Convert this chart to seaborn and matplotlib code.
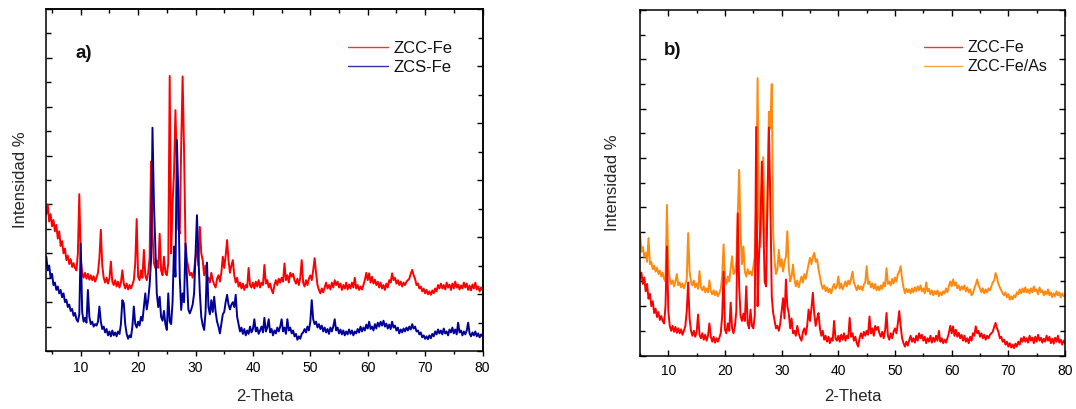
import numpy as np
import pandas as pd
import matplotlib
matplotlib.use("Agg")
import matplotlib.pyplot as plt
from matplotlib.lines import Line2D
from matplotlib.ticker import MultipleLocator
import seaborn as sns

# ---------------- data (y in arbitrary units 0-70) ----------------
step = 0.25                 # 2-theta sampling step (deg)
start_a = 4.0               # first 2-theta of the ZCC-Fe / ZCS-Fe scans
start_b = 5.0               # first 2-theta of the ZCC-Fe/As scan
offset_zcc_b = -10.0        # vertical offset of ZCC-Fe in panel b

zcc_fe = [
    28.0, 30.0, 26.5, 28.0, 25.5, 26.8, 24.5, 25.8, 23.0, 24.5,   # 4.0
    21.5, 22.5, 20.0, 21.0, 18.6, 19.5, 17.8, 18.8, 17.2, 18.0,   # 6.5
    17.0, 16.5, 20.0, 32.1, 19.0, 16.0, 15.0, 16.0, 14.8, 15.8,   # 9.0
    14.6, 15.5, 14.5, 15.3, 14.2, 15.0, 16.0, 19.0, 24.8, 17.5,   # 11.5
    15.0, 14.0, 15.0, 13.8, 14.8, 18.3, 14.2, 13.5, 14.5, 13.2,   # 14.0
    14.2, 13.0, 14.0, 16.5, 13.8, 12.8, 13.8, 12.6, 13.5, 12.8,   # 16.5
    13.6, 14.5, 18.0, 27.0, 15.2, 14.5, 16.5, 15.0, 20.7, 15.5,   # 19.0
    14.5, 16.0, 19.0, 38.8, 24.0, 18.0, 17.0, 18.5, 17.0, 24.0,   # 21.5
    16.5, 15.5, 19.3, 16.0, 15.5, 18.0, 56.3, 20.0, 30.0, 36.4,   # 24.0
    49.3, 38.0, 25.0, 24.0, 42.0, 56.2, 41.1, 22.0, 18.6, 17.0,   # 26.5
    15.5, 16.0, 15.0, 16.5, 19.0, 21.6, 17.5, 25.4, 20.0, 18.6,   # 29.0
    15.5, 17.5, 14.5, 15.0, 14.0, 16.0, 14.5, 13.6, 13.0, 14.8,   # 31.5
    15.5, 14.2, 16.0, 19.3, 17.0, 19.5, 22.7, 18.5, 16.0, 17.5,   # 34.0
    18.6, 15.5, 14.0, 15.0, 13.2, 14.0, 12.8, 13.8, 12.5, 13.5,   # 36.5
    13.0, 17.0, 13.5, 13.0, 14.0, 12.8, 14.2, 13.2, 14.5, 13.0,   # 39.0
    14.0, 13.5, 17.6, 13.8, 14.5, 13.0, 13.8, 12.5, 11.8, 13.5,   # 41.5
    14.5, 13.5, 14.8, 14.0, 15.0, 14.2, 17.9, 14.5, 15.5, 14.0,   # 44.0
    16.0, 15.2, 15.8, 14.5, 13.8, 14.8, 13.5, 15.0, 18.6, 14.0,   # 46.5
    13.2, 14.5, 13.5, 14.8, 15.5, 14.5, 16.5, 19.0, 16.0, 13.5,   # 49.0
    12.5, 11.8, 12.8, 12.0, 13.0, 14.0, 12.8, 13.5, 12.6, 14.0,   # 51.5
    13.0, 14.5, 13.5, 14.2, 13.0, 13.8, 12.5, 13.5, 12.8, 14.0,   # 54.0
    12.6, 13.6, 12.8, 14.0, 13.0, 15.0, 12.8, 13.5, 12.5, 13.2,   # 56.5
    12.6, 13.5, 14.5, 16.0, 14.5, 15.9, 14.0, 15.2, 13.8, 14.6,   # 59.0
    13.5, 14.2, 13.0, 14.0, 12.8, 13.5, 12.5, 13.8, 13.0, 14.5,   # 61.5
    14.0, 15.9, 14.5, 15.0, 13.8, 14.5, 13.5, 14.2, 13.2, 14.0,   # 64.0
    13.5, 14.2, 14.5, 14.8, 15.8, 16.6, 15.5, 14.8, 13.5, 13.8,   # 66.5
    12.8, 13.2, 12.2, 12.8, 11.8, 12.5, 11.6, 12.2, 11.5, 12.4,   # 69.0
    11.8, 12.8, 12.2, 13.5, 12.8, 13.8, 12.8, 13.5, 12.6, 14.0,   # 71.5
    13.0, 13.6, 12.5, 13.8, 12.8, 14.2, 13.0, 13.6, 12.6, 13.4,   # 74.0
    12.8, 14.0, 13.0, 13.8, 12.5, 13.4, 12.4, 13.6, 12.8, 14.0,   # 76.5
    12.6, 13.2, 12.2, 13.0, 12.5,                                 # 79.0
]

zcs_fe = [
    19.3, 16.5, 17.5, 15.0, 15.8, 13.5, 14.0, 12.5, 13.2, 11.8,   # 4.0
    12.5, 11.0, 11.8, 10.0, 10.5, 9.0, 9.5, 8.2, 8.6, 7.2,        # 6.5
    7.8, 6.5, 6.0, 7.5, 22.0, 8.0, 6.0, 6.8, 5.8, 12.5,           # 9.0
    7.0, 5.5, 6.0, 5.0, 5.5, 5.2, 6.0, 9.1, 6.0, 4.5,             # 11.5
    5.0, 3.8, 4.5, 3.2, 4.0, 3.0, 4.2, 3.2, 3.8, 3.0,             # 14.0
    4.0, 3.5, 5.5, 10.4, 9.8, 5.5, 3.5, 2.5, 3.2, 2.8,            # 16.5
    5.0, 9.1, 5.5, 4.8, 6.0, 5.2, 7.0, 6.2, 9.1, 11.8,            # 19.0
    8.5, 10.5, 13.5, 18.6, 45.7, 30.2, 21.4, 11.8, 9.0, 11.1,     # 21.5
    7.0, 6.2, 8.2, 5.5, 4.3, 11.8, 6.0, 5.5, 10.0, 21.4,          # 24.0
    15.2, 43.2, 32.3, 15.2, 8.4, 11.8, 10.0, 22.0, 15.2, 8.5,     # 26.5
    7.7, 8.5, 9.5, 11.8, 20.0, 27.8, 19.3, 12.0, 7.0, 5.3,        # 29.0
    4.3, 8.0, 18.1, 9.0, 7.5, 10.4, 8.0, 11.1, 8.0, 6.0,          # 31.5
    5.0, 3.6, 5.5, 7.5, 8.0, 10.0, 11.5, 9.5, 8.5, 9.5,           # 34.0
    10.0, 9.0, 11.5, 7.0, 5.5, 4.0, 4.8, 3.5, 4.5, 3.2,           # 36.5
    4.2, 3.5, 5.0, 3.8, 4.5, 6.5, 4.0, 4.8, 3.5, 4.2,             # 39.0
    5.0, 3.8, 6.8, 4.0, 4.8, 6.5, 3.8, 4.5, 3.2, 4.2,             # 41.5
    3.6, 4.8, 4.0, 5.0, 6.5, 4.0, 4.8, 3.5, 6.5, 4.2,             # 44.0
    4.8, 3.6, 4.2, 3.0, 3.5, 2.3, 3.0, 2.5, 3.5, 3.8,             # 46.5
    4.5, 3.8, 5.0, 4.2, 6.0, 10.4, 6.5, 5.5, 6.0, 4.8,            # 49.0
    5.5, 4.5, 5.2, 4.0, 4.8, 3.8, 4.5, 3.5, 4.8, 4.0,             # 51.5
    5.0, 6.5, 4.2, 4.8, 3.6, 4.4, 3.4, 4.2, 3.2, 4.0,             # 54.0
    3.4, 4.4, 3.5, 4.2, 3.2, 4.0, 3.6, 4.5, 3.8, 5.0,             # 56.5
    4.0, 4.8, 4.2, 5.4, 4.6, 6.0, 4.5, 5.0, 4.2, 5.5,             # 59.0
    4.6, 5.8, 5.0, 6.0, 5.2, 6.2, 5.0, 5.6, 4.6, 5.4,             # 61.5
    4.5, 6.0, 4.8, 5.2, 4.2, 4.8, 3.6, 4.4, 3.8, 4.6,             # 64.0
    4.0, 4.8, 4.2, 5.0, 4.4, 5.5, 4.6, 5.0, 4.0, 4.2,             # 66.5
    3.4, 3.8, 2.8, 3.2, 2.5, 3.0, 2.4, 3.2, 2.6, 3.5,             # 69.0
    3.0, 4.0, 3.4, 4.4, 3.6, 4.2, 3.4, 4.6, 3.6, 4.0,             # 71.5
    3.2, 4.4, 3.8, 4.8, 3.6, 4.4, 3.4, 5.8, 3.8, 4.2,             # 74.0
    3.2, 4.0, 3.4, 4.2, 5.8, 3.6, 3.0, 3.8, 3.2, 4.0,             # 76.5
    3.0, 3.6, 2.8, 3.4, 3.0,                                      # 79.0
]

zcc_fe_as = [
    24.8, 21.0, 22.0, 20.0, 20.8, 19.0, 23.8, 18.5, 19.0, 17.5,   # 5.0
    18.2, 17.0, 17.8, 16.5, 17.2, 16.0, 16.8, 15.5, 15.0, 30.5,   # 7.5
    18.0, 15.5, 14.5, 15.2, 14.0, 15.0, 16.5, 14.2, 14.8, 13.8,   # 10.0
    14.6, 13.6, 14.4, 15.5, 24.8, 17.0, 15.0, 14.2, 15.2, 13.8,   # 12.5
    14.6, 13.5, 17.1, 13.8, 13.2, 14.0, 12.8, 13.6, 12.8, 15.2,   # 15.0
    13.0, 12.4, 13.2, 12.2, 13.0, 12.0, 12.6, 13.5, 16.0, 22.5,   # 17.5
    15.5, 14.5, 16.0, 15.0, 17.5, 20.1, 16.5, 17.0, 19.0, 28.0,   # 20.0
    37.6, 25.0, 18.5, 22.1, 17.0, 16.0, 17.5, 16.5, 17.0, 16.2,   # 22.5
    18.0, 20.0, 30.0, 56.2, 28.0, 22.0, 29.5, 40.2, 26.0, 22.1,   # 25.0
    30.0, 49.4, 46.0, 55.0, 25.0, 19.0, 16.5, 17.5, 21.4, 18.0,   # 27.5
    19.5, 17.0, 19.0, 20.0, 25.2, 18.0, 15.0, 16.0, 18.4, 15.5,   # 30.0
    14.0, 15.2, 13.8, 15.0, 16.0, 14.8, 16.5, 15.5, 17.0, 18.5,   # 32.5
    19.8, 18.5, 20.0, 20.8, 19.0, 19.5, 17.5, 16.0, 14.5, 13.5,   # 35.0
    14.2, 13.0, 13.8, 12.8, 13.5, 12.6, 13.8, 14.5, 13.5, 14.0,   # 37.5
    16.0, 13.6, 14.6, 13.4, 14.2, 15.0, 14.0, 15.2, 14.4, 15.5,   # 40.0
    17.0, 14.8, 14.0, 13.2, 14.2, 13.4, 14.0, 13.2, 14.4, 14.8,   # 42.5
    18.1, 14.5, 15.0, 13.8, 14.6, 13.5, 14.5, 13.2, 14.0, 13.2,   # 45.0
    14.2, 13.5, 14.8, 14.0, 17.7, 14.5, 15.0, 14.2, 15.5, 14.6,   # 47.5
    15.8, 15.0, 16.5, 17.0, 18.1, 15.5, 13.8, 12.6, 13.5, 12.8,   # 50.0
    13.4, 12.6, 13.6, 12.8, 13.8, 13.0, 14.0, 13.2, 14.2, 13.0,   # 52.5
    13.6, 12.6, 14.8, 13.0, 13.5, 12.4, 13.2, 12.2, 13.0, 12.4,   # 55.0
    13.2, 12.0, 12.8, 12.2, 13.0, 12.6, 13.6, 12.8, 14.0, 15.0,   # 57.5
    14.0, 15.4, 14.2, 14.8, 13.6, 14.2, 13.2, 14.0, 13.4, 14.2,   # 60.0
    13.0, 13.8, 12.8, 13.4, 12.2, 12.6, 13.6, 14.4, 15.4, 14.2,   # 62.5
    13.6, 12.8, 13.6, 12.6, 13.4, 12.8, 13.6, 13.2, 14.0, 14.8,   # 65.0
    15.2, 16.7, 15.8, 14.5, 13.8, 13.2, 12.6, 12.2, 12.8, 11.8,   # 67.5
    12.4, 11.3, 12.0, 11.4, 12.2, 11.8, 12.8, 12.4, 13.4, 12.6,   # 70.0
    13.6, 12.8, 13.8, 12.8, 13.4, 12.6, 13.6, 12.8, 14.0, 13.0,   # 72.5
    13.4, 12.4, 13.8, 12.8, 13.2, 12.2, 13.0, 12.4, 13.4, 12.2,   # 75.0
    12.8, 11.8, 12.6, 12.0, 13.0, 12.2, 12.8, 11.8, 12.6, 12.0,   # 77.5
    12.4,                                                         # 80.0
]

labels_a = ["ZCC-Fe", "ZCS-Fe"]
labels_b = ["ZCC-Fe", "ZCC-Fe/As"]
colors = {"ZCC-Fe": "#ff0000", "ZCS-Fe": "#000099", "ZCC-Fe/As": "#ff8a10"}
x_ticks = [10, 20, 30, 40, 50, 60, 70, 80]

if len(zcc_fe) != 305 or len(zcs_fe) != 305 or len(zcc_fe_as) != 301:
    raise ValueError(f"lengths {len(zcc_fe)} {len(zcs_fe)} {len(zcc_fe_as)}")

# ---------------- tables ----------------
tt_a = start_a + step * np.arange(len(zcc_fe))
tt_b = start_b + step * np.arange(len(zcc_fe_as))
df_a = pd.concat([
    pd.DataFrame({"2-Theta": tt_a, "I": zcc_fe, "serie": "ZCC-Fe"}),
    pd.DataFrame({"2-Theta": tt_a, "I": zcs_fe, "serie": "ZCS-Fe"}),
], ignore_index=True)
df_b = pd.concat([
    pd.DataFrame({"2-Theta": tt_b, "I": zcc_fe_as, "serie": "ZCC-Fe/As"}),
    pd.DataFrame({"2-Theta": tt_a, "I": np.array(zcc_fe) + offset_zcc_b, "serie": "ZCC-Fe"}),
], ignore_index=True)

# ---------------- style ----------------
sns.set_theme(style="ticks")
plt.rcParams["font.family"] = ["Liberation Sans", "DejaVu Sans"]
plt.rcParams["axes.edgecolor"] = "black"
plt.rcParams["xtick.color"] = "black"
plt.rcParams["ytick.color"] = "black"
plt.rcParams["text.color"] = "#111111"

W, H = 1076, 409
fig = plt.figure(figsize=(W / 100, H / 100), dpi=100)
ax_a = fig.add_axes([46.3 / W, (H - 351) / H, 436.2 / W, 342 / H])
ax_b = fig.add_axes([640 / W, (H - 355.5) / H, 425 / W, 345.5 / H])

LW = 1.4
sns.lineplot(data=df_a, x="2-Theta", y="I", hue="serie", hue_order=labels_a,
             palette=colors, linewidth=LW, estimator=None, ax=ax_a, legend=False)
sns.lineplot(data=df_b, x="2-Theta", y="I", hue="serie", hue_order=["ZCC-Fe/As", "ZCC-Fe"],
             palette=colors, linewidth=LW, estimator=None, ax=ax_b, legend=False)

for ax, x0, lab_txt, lbls, legx, legy, tx, ty, legfs, ylab_x, xlab_y in [
    (ax_a, 4, "a)", labels_a, 0.692, 0.906, 0.066, 0.870, 12, -0.043, -0.111),
    (ax_b, 5, "b)", labels_b, 0.668, 0.912, 0.055, 0.882, 11.5, -0.046, -0.097),
]:
    ax.set_xlim(x0, 80)
    ax.set_ylim(0, 70)
    ax.set_xticks(x_ticks)
    ax.xaxis.set_minor_locator(MultipleLocator(5))
    ax.yaxis.set_major_locator(MultipleLocator(10))
    ax.yaxis.set_minor_locator(MultipleLocator(5))
    ax.tick_params(axis="y", which="both", direction="in", labelleft=False, width=1.0)
    ax.tick_params(axis="y", which="major", length=4.5)
    ax.tick_params(axis="y", which="minor", length=3.5)
    ax.tick_params(axis="x", labelsize=10, width=1.0)
    for s in ax.spines.values():
        s.set_linewidth(1.1)
        s.set_color("black")
    ax.set_xlabel("2-Theta", fontsize=12)
    ax.set_ylabel("Intensidad %", fontsize=12)
    ax.yaxis.set_label_coords(ylab_x, 0.5)
    ax.xaxis.set_label_coords(0.5, xlab_y)
    ax.text(tx, ty, lab_txt, transform=ax.transAxes, fontsize=13.5,
            fontweight="bold", ha="left", va="center")
    handles = [Line2D([], [], color=colors[l], lw=1.0, alpha=0.8) for l in lbls]
    ax.legend(handles, lbls, loc="upper left", bbox_to_anchor=(legx, legy),
              frameon=False, borderpad=0, borderaxespad=0, handlelength=2.4,
              handletextpad=0.3, labelspacing=0.25, fontsize=legfs)

# panel a: bottom ticks outward, top ticks inward, right ticks on own scale
ax_a.tick_params(axis="x", which="both", direction="out", pad=4)
ax_a.tick_params(axis="x", which="major", length=3.5)
ax_a.tick_params(axis="x", which="minor", length=2.0)
top_a = ax_a.secondary_xaxis("top")
top_a.set_xticks(x_ticks)
top_a.xaxis.set_minor_locator(MultipleLocator(5))
top_a.tick_params(axis="x", which="both", direction="in", labeltop=False, width=1.0)
top_a.tick_params(axis="x", which="major", length=4.5)
top_a.tick_params(axis="x", which="minor", length=3.0)
top_a.spines["top"].set_linewidth(1.1)
right_a = ax_a.secondary_yaxis("right", functions=(lambda y: y * 6 / 7, lambda y: y * 7 / 6))
right_a.yaxis.set_major_locator(MultipleLocator(10))
right_a.yaxis.set_minor_locator(MultipleLocator(5))
right_a.tick_params(axis="y", which="both", direction="in", labelright=False, width=1.0)
right_a.tick_params(axis="y", which="major", length=4.5)
right_a.tick_params(axis="y", which="minor", length=3.5)
right_a.spines["right"].set_linewidth(1.1)

# panel b: all ticks inward, mirrored
ax_b.tick_params(axis="x", which="both", direction="in", top=True, pad=6)
ax_b.tick_params(axis="x", which="major", length=4.5)
ax_b.tick_params(axis="x", which="minor", length=2.5)
ax_b.tick_params(axis="y", which="both", right=True)

fig.savefig("out.png", dpi=100)
